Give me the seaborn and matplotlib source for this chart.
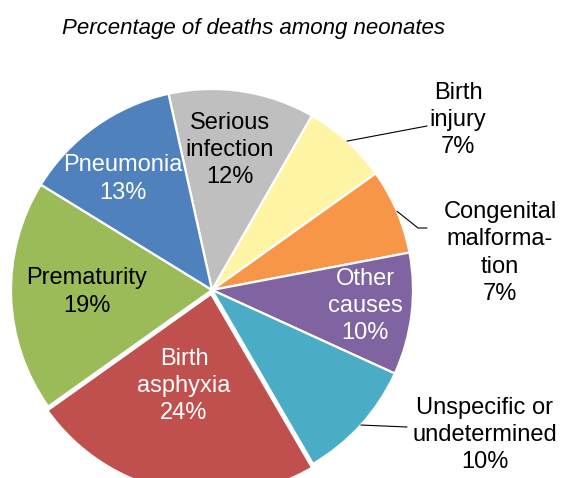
import math
import matplotlib
matplotlib.use("Agg")
import matplotlib.pyplot as plt
import seaborn as sns

# Causes of neonatal deaths, clockwise from the top
causes = ["Serious\ninfection", "Birth\ninjury", "Congenital\nmalforma-\ntion",
          "Other\ncauses", "Unspecific or\nundetermined", "Birth\nasphyxia",
          "Prematurity", "Pneumonia"]
percent = [12, 7, 7, 10, 10, 24, 19, 13]
colors = ["#BFBFBF", "#FFF4A3", "#F79646", "#8064A2", "#4BACC6", "#C0504D",
          "#9BBB59", "#4F81BD"]
text_colors = ["black", "black", "black", "white", "black", "white", "black", "white"]

sns.set_theme(style="white")
plt.rcParams["font.family"] = ["Liberation Sans", "DejaVu Sans"]

W, H = 562, 478
fig = plt.figure(figsize=(W / 100, H / 100), dpi=100)
ax = fig.add_axes([0, 0, 1, 1])


def px(x, y):
    """Pixel position (origin top-left) to data coordinates."""
    return x, H - y


cx, cy = px(212, 290)
R = 201
explode = [0, 0, 0, 0, 0, 4, 0, 0]

wedges, _ = ax.pie(percent, colors=colors, startangle=102.5, counterclock=False,
                   center=(cx, cy), radius=R, explode=explode,
                   wedgeprops=dict(edgecolor="white", linewidth=1.6))
ax.set_xlim(0, W)
ax.set_ylim(0, H)
ax.set_aspect("equal")
ax.axis("off")

# Label anchors (pixel space) for each slice
label_pos = [(230, 150), (458, 120), (500, 253), (365, 306), (485, 435),
             (184, 386), (87, 292), (123, 179)]
for name, p, tc, (lx, ly) in zip(causes, percent, text_colors, label_pos):
    tx, ty = px(lx, ly)
    ax.text(tx, ty, f"{name}\n{p}%", ha="center", va="center", color=tc,
            fontsize=17, linespacing=1.32)

# Leader lines for the labels placed outside the pie
leaders = {1: [(427, 126)], 2: [(418, 228), (427, 228)], 4: [(407, 427)]}
for i, pts in leaders.items():
    w = wedges[i]
    mid = math.radians((w.theta1 + w.theta2) / 2)
    xs = [w.center[0] + w.r * math.cos(mid)]
    ys = [w.center[1] + w.r * math.sin(mid)]
    for (lx, ly) in pts:
        x, y = px(lx, ly)
        xs.append(x)
        ys.append(y)
    ax.plot(xs, ys, color="black", linewidth=0.8)

tx, ty = px(254, 28)
ax.text(tx, ty, "Percentage of deaths among neonates", ha="center", va="center",
        fontsize=16, fontstyle="italic", color="black")

fig.savefig("out.png", dpi=100)
